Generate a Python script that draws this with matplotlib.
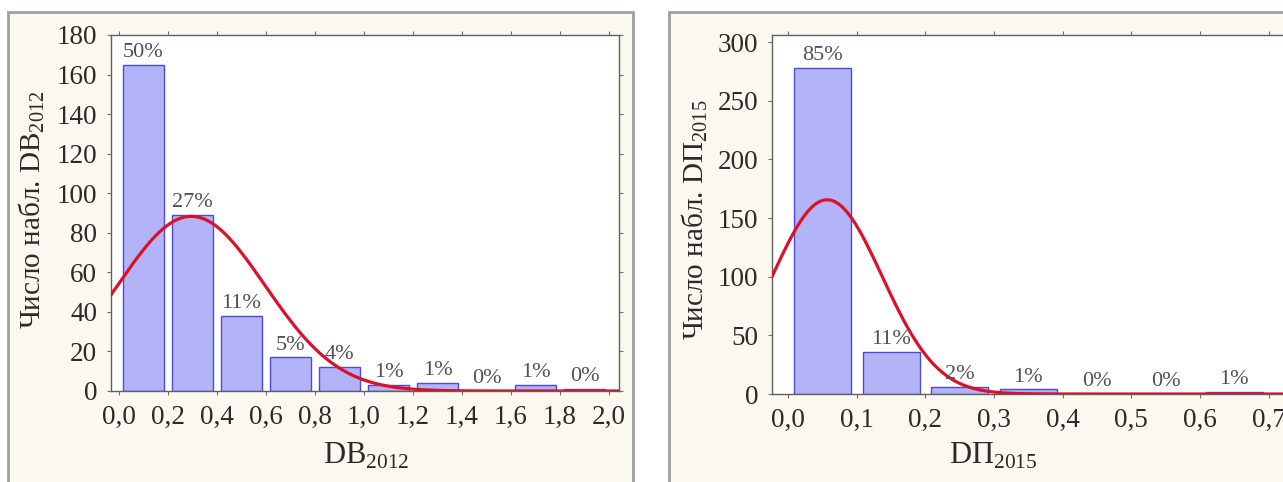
import numpy as np
import matplotlib
matplotlib.use('Agg')
import matplotlib.pyplot as plt
from matplotlib.patches import Rectangle

# Data
bins_db = [0.0, 0.2, 0.4, 0.6, 0.8, 1.0, 1.2, 1.4, 1.6, 1.8]
counts_db = [165, 89, 38, 17, 12, 3, 4, 0, 3, 1]
pct_db = ['50%', '27%', '11%', '5%', '4%', '1%', '1%', '0%', '1%', '0%']
ticks_db = [0.0, 0.2, 0.4, 0.6, 0.8, 1.0, 1.2, 1.4, 1.6, 1.8, 2.0]

bins_dp = [0.0, 0.1, 0.2, 0.3, 0.4, 0.5, 0.6]
counts_dp = [278, 36, 6, 4, 0, 0, 2]
pct_dp = ['85%', '11%', '2%', '1%', '0%', '0%', '1%']
ticks_dp = [0.0, 0.1, 0.2, 0.3, 0.4, 0.5, 0.6, 0.7]

# fitted normal curve parameters (mean, sd, N)
fit_db = (0.295, 0.30, 332)
fit_dp = (0.057, 0.080, 332)

plt.rcParams['font.family'] = ['Liberation Serif', 'DejaVu Serif']
plt.rcParams['mathtext.fontset'] = 'custom'
plt.rcParams['mathtext.rm'] = 'Liberation Serif'

W, H = 1283, 482
fig = plt.figure(figsize=(W / 100, H / 100), dpi=100)
fig.patch.set_facecolor('white')

def px(x0, y0, x1, y1):
    return [x0 / W, 1 - y1 / H, (x1 - x0) / W, (y1 - y0) / H]

# panel frames
for x0, x1 in [(8, 633), (669, 1300)]:
    fig.patches.append(Rectangle((x0 / W, -0.05), (x1 - x0) / W, 1.05 - 12 / H,
                                 transform=fig.transFigure, facecolor='#fbf8f0',
                                 edgecolor='#a0a0a0', lw=2, zorder=-5))

bar_face = '#b3b3f7'
bar_edge = '#4a4ae0'
curve_col = '#dc1028'
txt_col = '#2a2a2a'

def panel(rect, bins, counts, pct, ticks, fit, bw, frac, xlim, ylim, yticks,
          xlabel_pos, ylabel_pos, name):
    ax = fig.add_axes(rect)
    ax.set_zorder(2)
    ax.set_facecolor('white')
    centers = np.array(bins) + bw / 2
    ax.bar(centers, counts, width=bw * frac, color=bar_face, edgecolor=bar_edge,
           linewidth=1.0, zorder=2)
    for c, v, t in zip(centers, counts, pct):
        ax.annotate(t, (c, v), xytext=(0, 2), textcoords='offset points',
                    ha='center', va='bottom', fontsize=16, color='#505058', zorder=4)
    mu, sd, n = fit
    xs = np.linspace(xlim[0], xlim[1], 400)
    ys = n * bw / (sd * np.sqrt(2 * np.pi)) * np.exp(-(xs - mu) ** 2 / (2 * sd ** 2))
    ax.plot(xs, ys, color=curve_col, lw=2.3, zorder=3)
    ax.set_xlim(*xlim)
    ax.set_ylim(*ylim)
    ax.set_xticks(ticks)
    ax.set_xticklabels([('%.1f' % t).replace('.', ',') for t in ticks])
    ax.set_yticks(yticks)
    ax.tick_params(axis='both', direction='out', length=3, width=0.8, color='#707070',
                   labelsize=19.5, labelcolor=txt_col, top=True, right=True)
    ax.tick_params(axis='x', pad=7)
    ax.tick_params(axis='y', pad=7)
    for s in ax.spines.values():
        s.set_color('#606060')
        s.set_linewidth(1.0)
    fig.text(xlabel_pos[0] / W, 1 - xlabel_pos[1] / H, name, ha='center', va='center',
             fontsize=22, color=txt_col, zorder=3)
    fig.text(ylabel_pos[0] / W, 1 - ylabel_pos[1] / H, 'Число набл. ' + name,
             ha='center', va='center', rotation=90, fontsize=21, color=txt_col, zorder=3)
    return ax

panel(px(111, 35, 619, 391), bins_db, counts_db, pct_db, ticks_db, fit_db, 0.2, 0.85,
      (-0.0327, 2.041), (0, 180), np.arange(0, 181, 20),
      (366, 456), (32, 210), r'DB$_{\mathrm{2012}}$')

panel(px(772, 35, 1290, 394), bins_dp, counts_dp, pct_dp, ticks_dp, fit_dp, 0.1, 0.83,
      (-0.0233, 0.731), (0, 306), np.arange(0, 301, 50),
      (993, 456), (695, 220), r'DП$_{\mathrm{2015}}$')

fig.savefig('out.png', dpi=100)
